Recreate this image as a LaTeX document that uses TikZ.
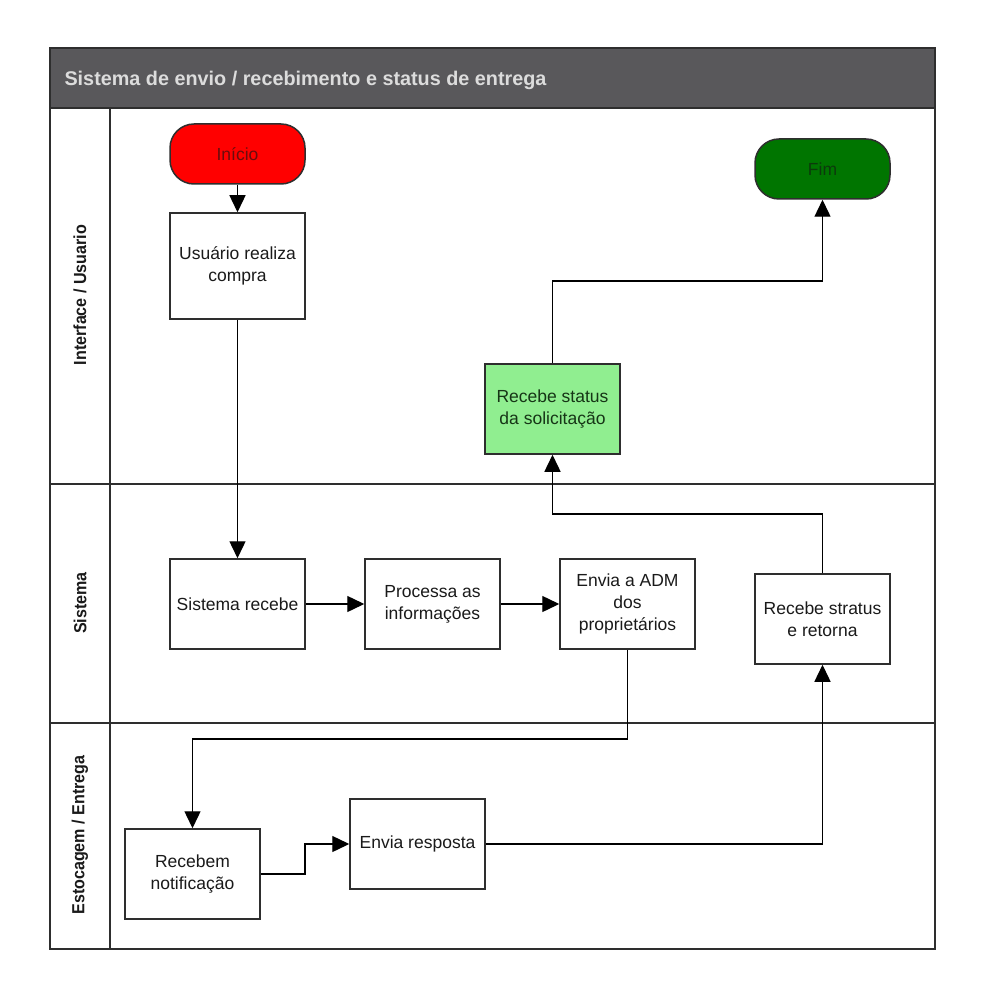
\documentclass[tikz,border=0pt]{standalone}
\usepackage{fontspec}
\setmainfont{Liberation Sans}
\usetikzlibrary{arrows.meta}
\definecolor{titlebg}{HTML}{59585B}
\definecolor{titlefg}{HTML}{DCDCDC}
\definecolor{linec}{HTML}{2E2E2E}
\definecolor{startred}{HTML}{FF0000}
\definecolor{startfg}{HTML}{6A0D0D}
\definecolor{endgreen}{HTML}{007500}
\definecolor{endfg}{HTML}{0C3A0C}
\definecolor{lightg}{HTML}{90EE90}
\definecolor{lightgfg}{HTML}{163516}
\definecolor{txt}{HTML}{1A1A1A}
\tikzset{
  every node/.style={font=\fontsize{17.5}{22}\selectfont},
  procbox/.style={draw=linec, line width=1.5pt, fill=white, minimum width=135pt, minimum height=90pt, align=center, text=txt, inner sep=2pt},
  termbox/.style={draw=linec, line width=1.5pt, rounded corners=24pt, minimum width=135pt, minimum height=60pt, align=center},
  flow/.style={draw=black, line width=1.4pt, -{Triangle[length=17pt,width=16pt]}},
  lanelbl/.style={rotate=90, font=\fontsize{17.5}{20}\selectfont\bfseries, text=txt},
  frame/.style={draw=linec, line width=1.5pt}
}
\begin{document}
\begin{tikzpicture}[x=1pt,y=-1pt]
\useasboundingbox (0,0) rectangle (985,1000);
\fill[white] (0,0) rectangle (985,1000);
% title bar
\fill[titlebg] (50,48) rectangle (935,108);
\node[anchor=west, text=titlefg, font=\fontsize{19.8}{22}\selectfont\bfseries] (title) at (61,80) {Sistema de envio / recebimento e status de entrega};
% frame and lanes
\draw[frame] (50,48) rectangle (935,949);
\draw[frame] (50,108) -- (935,108);
\draw[frame] (50,484) -- (935,484);
\draw[frame] (50,723) -- (935,723);
\draw[frame] (110,108) -- (110,949);
\node[lanelbl] (lane1) at (80,295) {\scalebox{0.92}[1]{Interface / Usuario}};
\node[lanelbl] (lane2) at (80,603) {\scalebox{0.92}[1]{Sistema}};
\node[lanelbl] (lane3) at (80,835) {\scalebox{0.92}[1]{Estocagem / Entrega}};
% nodes
\node[termbox, fill=startred, text=startfg] (inicio) at (237.5,154) {Início};
\node[procbox, minimum height=106pt] (compra) at (237.5,266) {Usuário realiza\\compra};
\node[termbox, fill=endgreen, text=endfg] (fim) at (822.5,169) {Fim};
\node[procbox, fill=lightg, text=lightgfg] (status) at (552.5,409) {Recebe status\\da solicitação};
\node[procbox] (sisrec) at (237.5,604) {Sistema recebe};
\node[procbox] (proc) at (432.5,604) {Processa as\\informações};
\node[procbox] (adm) at (627.5,604) {Envia a ADM\\dos\\proprietários};
\node[procbox] (stratus) at (822.5,619) {Recebe stratus\\e retorna};
\node[procbox] (notif) at (192.5,874) {Recebem\\notificação};
\node[procbox] (resp) at (417.5,844) {Envia resposta};
% connectors
\draw[flow] (inicio) -- (compra);
\draw[flow] (compra) -- (sisrec);
\draw[flow] (sisrec) -- (proc);
\draw[flow] (proc) -- (adm);
\draw[flow] (adm.south) -- (627.5,739) -- (192.5,739) -- (notif.north);
\draw[flow] (notif.east) -- (305,874) -- (305,844) -- (resp.west);
\draw[flow] (resp.east) -- (822.5,844) -- (stratus.south);
\draw[flow] (stratus.north) -- (822.5,514) -- (552.5,514) -- (status.south);
\draw[flow] (status.north) -- (552.5,281) -- (822.5,281) -- (fim.south);
\end{tikzpicture}
\end{document}
